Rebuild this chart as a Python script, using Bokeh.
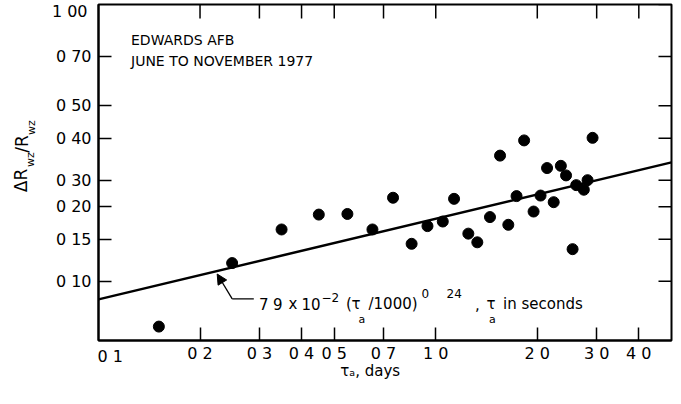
from math import log10, pi

from bokeh.embed import file_html
from bokeh.models import Arrow, FixedTicker, Label, LogAxis, NormalHead
from bokeh.plotting import figure
from bokeh.resources import INLINE

# Averaging time (days) and fractional change of the wet refractivity
tau_days = [0.151, 0.249, 0.349, 0.450, 0.547, 0.649, 0.747, 0.848, 0.945, 1.049,
            1.133, 1.249, 1.328, 1.448, 1.551, 1.641, 1.736, 1.828, 1.950, 2.045,
            2.138, 2.237, 2.349, 2.434, 2.545, 2.609, 2.748, 2.819, 2.917]
delta_r = [0.110, 0.170, 0.214, 0.237, 0.238, 0.214, 0.266, 0.194, 0.219, 0.226,
           0.264, 0.208, 0.196, 0.233, 0.355, 0.221, 0.269, 0.394, 0.242, 0.270,
           0.326, 0.258, 0.331, 0.310, 0.187, 0.290, 0.281, 0.300, 0.401]

# Power-law fit: 7.9e-2 * (tau / 1000) ** 0.24, tau in seconds
fit_coef = 7.9e-2
fit_exp = 0.24
fit_days = [0.1, 5.0]
SECONDS_PER_DAY = 86400.0

x_ticks = [0.1, 0.2, 0.3, 0.4, 0.5, 0.7, 1.0, 2.0, 3.0, 4.0]
x_tick_labels = ["0 1", "0 2", "0 3", "0 4", "0 5", "0 7", "1 0", "2 0", "3 0", "4 0"]
y_ticks = [0.15, 0.2, 0.25, 0.3, 0.4, 0.5, 0.7, 1.0]
y_tick_labels = ["0 10", "0 15", "0 20", "0 30", "0 40", "0 50", "0 70", "1 00"]

X_LIM = (0.1, 5.0)
Y_LIM = (0.1, 1.0)

W, H = 681, 404
LEFT, RIGHT, TOP, BOTTOM = 98, 10, 4, 64
FONT = "DejaVu Sans"
TICK_LEN = 13

fit_vals = [fit_coef * (d * SECONDS_PER_DAY / 1000.0) ** fit_exp for d in fit_days]

p = figure(width=W, height=H, x_axis_type="log", y_axis_type="log",
           x_range=X_LIM, y_range=Y_LIM, output_backend="svg", toolbar_location=None,
           min_border_left=LEFT, min_border_right=RIGHT,
           min_border_top=TOP, min_border_bottom=BOTTOM)
p.grid.visible = False
p.background_fill_color = "white"
p.border_fill_color = "white"
p.outline_line_color = "black"
p.outline_line_width = 2

# pixel position (from the canvas top-left) -> data coordinates
fx0, fx1 = LEFT, W - RIGHT
fy0, fy1 = TOP, H - BOTTOM


def data_x(px):
    lx0, lx1 = log10(X_LIM[0]), log10(X_LIM[1])
    return 10 ** (lx0 + (px - fx0) / (fx1 - fx0) * (lx1 - lx0))


def data_y(py):
    ly0, ly1 = log10(Y_LIM[0]), log10(Y_LIM[1])
    return 10 ** (ly0 + (fy1 - py) / (fy1 - fy0) * (ly1 - ly0))


def key(v):
    return int(v) if float(v).is_integer() else v


def style_axis(ax, ticks, labels, standoff):
    ax.ticker = FixedTicker(ticks=ticks, minor_ticks=[])
    ax.major_label_overrides = {key(v): s for v, s in zip(ticks, labels)}
    ax.major_tick_in = TICK_LEN
    ax.major_tick_out = 0
    ax.minor_tick_in = 0
    ax.minor_tick_out = 0
    ax.axis_line_width = 2
    ax.axis_line_color = "black"
    ax.major_tick_line_width = 1.5
    ax.major_tick_line_color = "black"
    ax.major_label_standoff = standoff
    ax.major_label_text_font = FONT
    ax.major_label_text_color = "black"
    ax.major_label_text_font_size = "16px"


def text_axis(side, ticks, labels, size, standoff, orientation="horizontal"):
    """An axis with no line or ticks, used to set text beside the frame."""
    ax = LogAxis(ticker=FixedTicker(ticks=ticks, minor_ticks=[]))
    ax.major_label_overrides = {key(v): s for v, s in zip(ticks, labels)}
    ax.axis_line_color = None
    ax.major_tick_line_color = None
    ax.minor_tick_line_color = None
    ax.major_tick_in = 0
    ax.major_tick_out = 0
    ax.minor_tick_in = 0
    ax.minor_tick_out = 0
    ax.major_label_standoff = standoff
    ax.major_label_orientation = orientation
    ax.major_label_text_font = FONT
    ax.major_label_text_color = "black"
    ax.major_label_text_font_size = f"{size}px"
    p.add_layout(ax, side)
    return ax


# main axes; the corner labels (0.1 on x, 1.00 on y) sit off their ticks
style_axis(p.xaxis[0], x_ticks[1:], x_tick_labels[1:], 3)
style_axis(p.yaxis[0], y_ticks[:-1], y_tick_labels[:-1], 7)

# corner labels
text_axis("left", [data_y(10.5)], [y_tick_labels[-1]], 16, -35)
text_axis("below", [data_x(109.7)], [x_tick_labels[0]], 16, -19)

# y title: subscripts next to the tick labels, main letters further out
text_axis("left", [data_y(159.2), data_y(127.0)], ["wz", "wz"], 11, 11, "vertical")
text_axis("left", [data_y(179.9), data_y(143.5)], ["\u0394R", "/R"], 17, -10, "vertical")

# x title
text_axis("below", [data_x(369.7)], ["\u03c4\u2090, days"], 15, -7)

# inward ticks along the top and right edges
p.ray(x=x_ticks[1:], y=[Y_LIM[1]] * (len(x_ticks) - 1), length=TICK_LEN + 1,
      angle=-pi / 2, length_units="screen", line_width=1.5, line_color="black")
p.ray(x=[X_LIM[1]] * len(y_ticks), y=y_ticks, length=TICK_LEN,
      angle=pi, length_units="screen", line_width=1.5, line_color="black")

# data and fit
p.line(fit_days, fit_vals, line_width=2.5, line_color="black")
p.scatter(tau_days, delta_r, size=11, fill_color="black", line_color="black")


def put(text, px, py, size):
    p.add_layout(Label(x=data_x(px), y=data_y(py), text=text, text_font=FONT,
                       text_font_size=f"{size}px", text_color="black",
                       text_align="left", text_baseline="alphabetic"))


# site / period
put("EDWARDS AFB", 130.5, 39, 14)
put("JUNE TO NOVEMBER 1977", 130.5, 60, 14)

# fit formula
BL = 303.3
put("7", 258.5, BL, 15)
put("9", 272.5, BL, 15)
put("x", 288, BL, 15)
put("10", 301, BL, 15)
put("\u22122", 321, 296.5, 12)
put("(", 345.5, BL, 15)
put("\u03c4", 351, BL, 15)
put("a", 358, 318.5, 11)
put("/1000)", 368, BL, 15)
put("0", 421, 293, 12)
put("24", 446, 293, 12)
put(",", 474.5, BL, 15)
put("\u03c4", 486, BL, 15)
put("a", 488.5, 318.5, 11)
put("in seconds", 502.5, BL, 15)

# leader and arrow pointing at the fit line
p.add_layout(Arrow(end=None, x_start=data_x(253.3), y_start=data_y(298.3),
                   x_end=data_x(231.7), y_end=data_y(298.3),
                   line_width=1.3, line_color="black"))
p.add_layout(Arrow(end=NormalHead(size=10, fill_color="black", line_color="black", line_width=1),
                   x_start=data_x(231.7), y_start=data_y(298.3),
                   x_end=data_x(216.7), y_end=data_y(273.5),
                   line_width=1.3, line_color="black"))

open("out.html", "w").write(file_html(p, INLINE))
